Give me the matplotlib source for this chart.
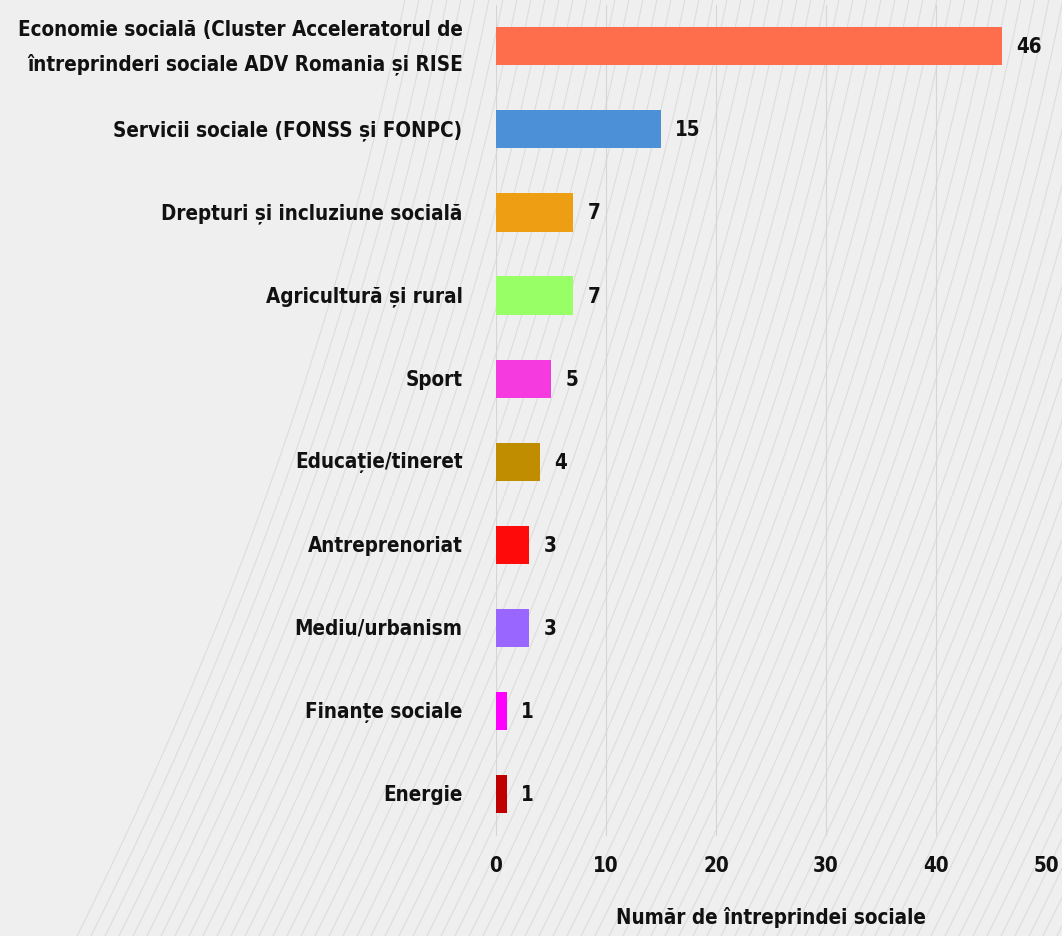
import matplotlib
matplotlib.use('Agg')
import matplotlib.pyplot as plt
from matplotlib import font_manager
import numpy as np

categorii = ['Economie socială (Cluster Acceleratorul de\nîntreprinderi sociale ADV Romania și RISE',
             'Servicii sociale (FONSS și FONPC)',
             'Drepturi și incluziune socială',
             'Agricultură și rural',
             'Sport',
             'Educație/tineret',
             'Antreprenoriat',
             'Mediu/urbanism',
             'Finanțe sociale',
             'Energie']
valori = [46, 15, 7, 7, 5, 4, 3, 3, 1, 1]
culori = ['#FF6E4C', '#4C90D8', '#EE9E12', '#99FF66', '#F53AE0',
          '#C08C00', '#FF0A0A', '#9966FF', '#FF00FF', '#C00000']
ticks = [0, 10, 20, 30, 40, 50]

fp = font_manager.FontProperties(family='DejaVu Sans', stretch='condensed', weight='bold', size=14.8)

fig = plt.figure(figsize=(10.62, 9.37), dpi=100)
fig.patch.set_facecolor('#EFEFEF')

# decorative diagonal lines in background
bg = fig.add_axes([0, 0, 1, 1], zorder=0)
bg.set_xlim(0, 1062)
bg.set_ylim(937, 0)
bg.axis('off')
yy = np.linspace(0, 937, 200)
for x0 in np.arange(77, 1500, 14):
    xx = x0 + 0.50 * (937 - yy) - 0.00016 * (937 - yy) ** 2
    bg.plot(xx, yy, color='#D8D8D8', lw=0.8, alpha=0.8)

ax = fig.add_axes([0.467, 0.107, 0.518, 0.887], zorder=1)
ax.patch.set_alpha(0)
y = np.arange(len(categorii))
ax.barh(y, valori, height=0.46, color=culori, zorder=3)
for i, v in enumerate(valori):
    ax.text(v + 1.3, i, str(v), va='center', ha='left', fontproperties=fp, color='#111111')

ax.set_yticks(y)
ax.set_yticklabels(categorii, fontproperties=fp, color='#111111', linespacing=1.8)
for lbl in ax.get_yticklabels():
    lbl.set_verticalalignment('center')
ax.set_ylim(len(categorii) - 0.5, -0.5)
ax.set_xlim(0, 50)
ax.set_xticks(ticks)
ax.set_xticklabels([str(t) for t in ticks], fontproperties=fp, color='#111111')
ax.tick_params(axis='y', length=0, pad=24)
ax.tick_params(axis='x', length=0, pad=14)
ax.grid(axis='x', color='#D5D5D5', lw=0.8, zorder=0)
for s in ax.spines.values():
    s.set_visible(False)
ax.set_xlabel('Număr de întreprindei sociale', fontproperties=fp, color='#111111', labelpad=22)

plt.savefig('out.png', dpi=100, facecolor=fig.get_facecolor())
